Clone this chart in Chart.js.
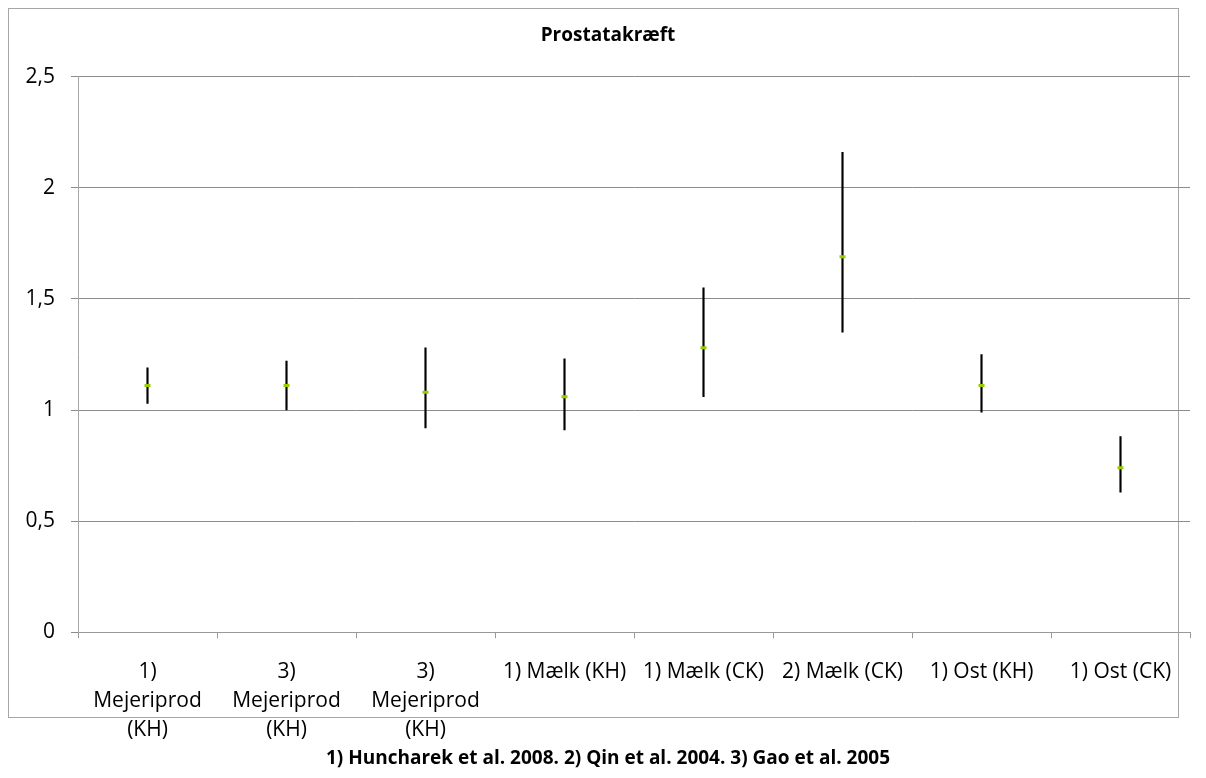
<!DOCTYPE html>
<html>
<head>
<meta charset="utf-8">
<title>Prostatakræft</title>
<script src="https://cdn.jsdelivr.net/npm/chart.js@4"></script>
<style>
    html, body { margin: 0; padding: 0; background: #ffffff; }
    #wrap { width: 1206px; height: 778px; }
</style>
</head>
<body>
<div id="wrap"><canvas id="chart" width="1206" height="778"></canvas></div>
<script>
// Categories (multi-line labels as in the original sheet)
const categories = [
    ['1)', 'Mejeriprod', '(KH)'],
    ['3)', 'Mejeriprod', '(KH)'],
    ['3)', 'Mejeriprod', '(KH)'],
    '1) Mælk (KH)',
    '1) Mælk (CK)',
    '2) Mælk (CK)',
    '1) Ost (KH)',
    '1) Ost (CK)'
];

// Relative risk and confidence interval per category
const riskValues = [1.11, 1.11, 1.08, 1.06, 1.28, 1.69, 1.11, 0.74];
const lowerCI = [1.03, 1.00, 0.92, 0.91, 1.06, 1.35, 0.99, 0.63];
const upperCI = [1.19, 1.22, 1.28, 1.23, 1.55, 2.16, 1.25, 0.88];

// Y axis ticks
const yTicks = [0, 0.5, 1, 1.5, 2, 2.5];

const chartTitle = 'Prostatakræft';
const sourceNote = '1) Huncharek et al. 2008. 2) Qin et al. 2004. 3) Gao et al. 2005';

// Build floating bar ranges for the error bars
const ciRanges = lowerCI.map((low, i) => [low, upperCI[i]]);

// Draw the thin outer frame the spreadsheet left behind
const framePlugin = {
    id: 'frame',
    beforeDraw(chart) {
        const ctx = chart.ctx;
        ctx.save();
        ctx.strokeStyle = '#a6a6a6';
        ctx.lineWidth = 1;
        ctx.strokeRect(8.5, 8.5, 1170, 709);
        ctx.restore();
    }
};

const ctx = document.getElementById('chart').getContext('2d');

new Chart(ctx, {
    type: 'bar',
    data: {
        labels: categories,
        datasets: [
            {
                type: 'line',
                label: 'RR',
                data: riskValues,
                showLine: false,
                pointStyle: 'line',
                pointRadius: 3,
                pointBorderWidth: 3,
                pointBorderColor: '#99cc00',
                pointBackgroundColor: '#99cc00',
                order: 1
            },
            {
                type: 'bar',
                label: 'CI',
                data: ciRanges,
                backgroundColor: '#000000',
                borderWidth: 0,
                barThickness: 1.5,
                order: 2
            }
        ]
    },
    options: {
        responsive: false,
        animation: false,
        layout: {
            padding: { left: 26, right: 16, top: 0, bottom: 0 }
        },
        plugins: {
            legend: { display: false },
            tooltip: { enabled: false },
            title: {
                display: true,
                text: chartTitle,
                color: '#000000',
                font: { family: 'Open Sans', size: 19, weight: 'bold' },
                padding: { top: 24, bottom: 30 }
            },
            subtitle: {
                display: true,
                position: 'bottom',
                text: sourceNote,
                color: '#000000',
                font: { family: 'Open Sans', size: 19, weight: 'bold' },
                padding: { top: 0, bottom: 8 }
            }
        },
        scales: {
            x: {
                offset: true,
                afterFit: (scale) => { scale.height = 115; },
                grid: {
                    display: true,
                    drawOnChartArea: false,
                    drawTicks: true,
                    tickLength: 6,
                    offset: true,
                    color: '#999999'
                },
                border: { display: true, color: '#999999' },
                ticks: {
                    color: '#000000',
                    padding: 20,
                    maxRotation: 0,
                    autoSkip: false,
                    font: { family: 'Open Sans', size: 21, lineHeight: 1.36 }
                }
            },
            y: {
                min: 0,
                max: 2.5,
                afterFit: (scale) => { scale.width = 52; },
                afterBuildTicks: (scale) => {
                    scale.ticks = yTicks.map(v => ({ value: v }));
                },
                grid: {
                    color: '#8c8c8c',
                    tickLength: 7
                },
                border: { display: true, color: '#a6a6a6' },
                ticks: {
                    color: '#000000',
                    padding: 16,
                    font: { family: 'Open Sans', size: 21 },
                    callback: (value) => String(value).replace('.', ',')
                }
            }
        }
    },
    plugins: [framePlugin]
});
</script>
</body>
</html>
